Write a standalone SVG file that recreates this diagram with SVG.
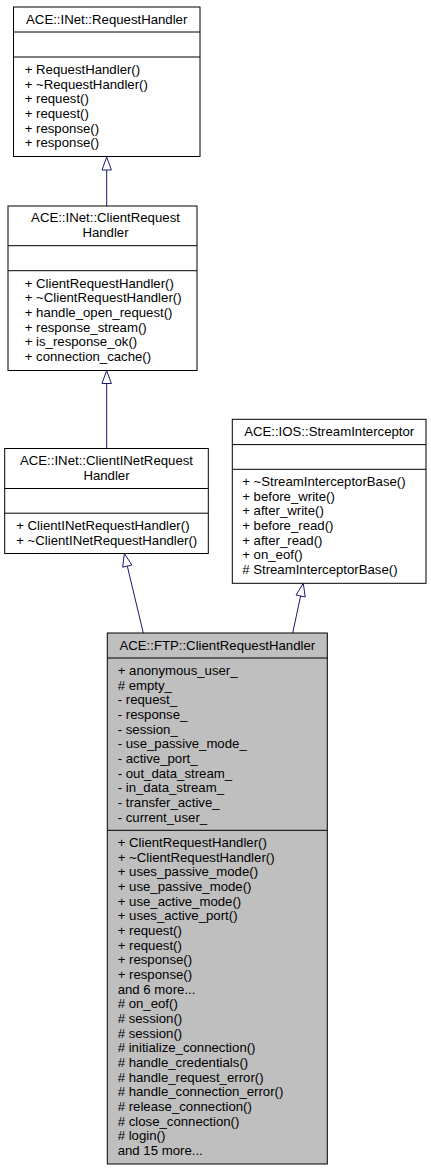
<svg xmlns="http://www.w3.org/2000/svg" width="431" height="1171" viewBox="0 0 431 1171">
<style>
  .box { fill: #ffffff; stroke: #000000; stroke-width: 1; }
  .cur { fill: #bfbfbf; stroke: #000000; stroke-width: 1; }
  .sep { stroke: #000000; stroke-width: 1; }
  text { font-family: "Liberation Sans", Arial, sans-serif; font-size: 13.2px; fill: #000000; }
  .c { text-anchor: middle; }
  .edge { stroke: #191970; stroke-width: 1; fill: none; }
  .head { fill: #ffffff; stroke: #191970; stroke-width: 1; }
</style>
<rect width="431" height="1171" fill="#ffffff"/>

<g id="connectors">
  <line class="edge" x1="106.7" y1="206" x2="106.7" y2="170"/>
  <polygon class="head" points="106.7,157 111.4,170 102,170"/>
  <line class="edge" x1="106.7" y1="448.5" x2="106.7" y2="383.5"/>
  <polygon class="head" points="106.7,370.5 111.4,383.5 102,383.5"/>
  <line class="edge" x1="143.3" y1="633" x2="127.3" y2="566.1"/>
  <polygon class="head" points="124.3,553.5 131.9,565 122.7,567.2"/>
  <line class="edge" x1="292.7" y1="633" x2="300.6" y2="596"/>
  <polygon class="head" points="303.3,583.3 305.2,597 296,595"/>
</g>

<g id="node_RequestHandler">
  <rect class="box" x="13.5" y="7" width="186.5" height="149.5"/>
  <line class="sep" x1="13.5" y1="32" x2="200" y2="32"/>
  <line class="sep" x1="13.5" y1="57" x2="200" y2="57"/>
  <text class="c" x="106.7" y="23.7">ACE::INet::RequestHandler</text>
  <text x="24.7" y="73.8">+ RequestHandler()</text>
  <text x="24.7" y="88.5">+ ~RequestHandler()</text>
  <text x="24.7" y="103.1">+ request()</text>
  <text x="24.7" y="117.8">+ request()</text>
  <text x="24.7" y="132.5">+ response()</text>
  <text x="24.7" y="147.1">+ response()</text>
</g>

<g id="node_ClientRequestHandler">
  <rect class="box" x="8" y="206" width="189" height="164.5"/>
  <line class="sep" x1="8" y1="245.7" x2="197" y2="245.7"/>
  <line class="sep" x1="8" y1="270.7" x2="197" y2="270.7"/>
  <text class="c" x="105.5" y="222">ACE::INet::ClientRequest</text>
  <text class="c" x="105.5" y="236.7">Handler</text>
  <text x="24.7" y="287.5">+ ClientRequestHandler()</text>
  <text x="24.7" y="302.2">+ ~ClientRequestHandler()</text>
  <text x="24.7" y="316.8">+ handle_open_request()</text>
  <text x="24.7" y="331.5">+ response_stream()</text>
  <text x="24.7" y="346.2">+ is_response_ok()</text>
  <text x="24.7" y="360.8">+ connection_cache()</text>
</g>

<g id="node_ClientINetRequestHandler">
  <rect class="box" x="4.7" y="448.5" width="203.6" height="105"/>
  <line class="sep" x1="4.7" y1="488.5" x2="208.3" y2="488.5"/>
  <line class="sep" x1="4.7" y1="513.2" x2="208.3" y2="513.2"/>
  <text class="c" x="106.5" y="464.8">ACE::INet::ClientINetRequest</text>
  <text class="c" x="106.5" y="479.5">Handler</text>
  <text x="16.2" y="530">+ ClientINetRequestHandler()</text>
  <text x="16.2" y="544.7">+ ~ClientINetRequestHandler()</text>
</g>

<g id="node_StreamInterceptor">
  <rect class="box" x="232.3" y="419.3" width="193.7" height="164"/>
  <line class="sep" x1="232.3" y1="444.6" x2="426" y2="444.6"/>
  <line class="sep" x1="232.3" y1="469.3" x2="426" y2="469.3"/>
  <text class="c" x="329.2" y="435.8">ACE::IOS::StreamInterceptor</text>
  <text x="242.2" y="485.8">+ ~StreamInterceptorBase()</text>
  <text x="242.2" y="500.5">+ before_write()</text>
  <text x="242.2" y="515.1">+ after_write()</text>
  <text x="242.2" y="529.8">+ before_read()</text>
  <text x="242.2" y="544.5">+ after_read()</text>
  <text x="242.2" y="559.1">+ on_eof()</text>
  <text x="242.2" y="573.8"># StreamInterceptorBase()</text>
</g>

<g id="node_FTP_ClientRequestHandler">
  <rect class="cur" x="107.3" y="633" width="220" height="531"/>
  <line class="sep" x1="107.3" y1="658" x2="327.3" y2="658"/>
  <line class="sep" x1="107.3" y1="830.3" x2="327.3" y2="830.3"/>
  <text class="c" x="217.3" y="649.7">ACE::FTP::ClientRequestHandler</text>
  <text x="117.7" y="674.8">+ anonymous_user_</text>
  <text x="117.7" y="689.5"># empty_</text>
  <text x="117.7" y="704.1">- request_</text>
  <text x="117.7" y="718.8">- response_</text>
  <text x="117.7" y="733.5">- session_</text>
  <text x="117.7" y="748.1">- use_passive_mode_</text>
  <text x="117.7" y="762.8">- active_port_</text>
  <text x="117.7" y="777.5">- out_data_stream_</text>
  <text x="117.7" y="792.1">- in_data_stream_</text>
  <text x="117.7" y="806.8">- transfer_active_</text>
  <text x="117.7" y="821.5">- current_user_</text>
  <text x="117.7" y="847.1">+ ClientRequestHandler()</text>
  <text x="117.7" y="861.8">+ ~ClientRequestHandler()</text>
  <text x="117.7" y="876.4">+ uses_passive_mode()</text>
  <text x="117.7" y="891.1">+ use_passive_mode()</text>
  <text x="117.7" y="905.8">+ use_active_mode()</text>
  <text x="117.7" y="920.4">+ uses_active_port()</text>
  <text x="117.7" y="935.1">+ request()</text>
  <text x="117.7" y="949.8">+ request()</text>
  <text x="117.7" y="964.4">+ response()</text>
  <text x="117.7" y="979.1">+ response()</text>
  <text x="117.7" y="993.8">and 6 more...</text>
  <text x="117.7" y="1008.4"># on_eof()</text>
  <text x="117.7" y="1023.1"># session()</text>
  <text x="117.7" y="1037.8"># session()</text>
  <text x="117.7" y="1052.4"># initialize_connection()</text>
  <text x="117.7" y="1067.1"># handle_credentials()</text>
  <text x="117.7" y="1081.8"># handle_request_error()</text>
  <text x="117.7" y="1096.4"># handle_connection_error()</text>
  <text x="117.7" y="1111.1"># release_connection()</text>
  <text x="117.7" y="1125.8"># close_connection()</text>
  <text x="117.7" y="1140.4"># login()</text>
  <text x="117.7" y="1155.1">and 15 more...</text>
</g>
</svg>
